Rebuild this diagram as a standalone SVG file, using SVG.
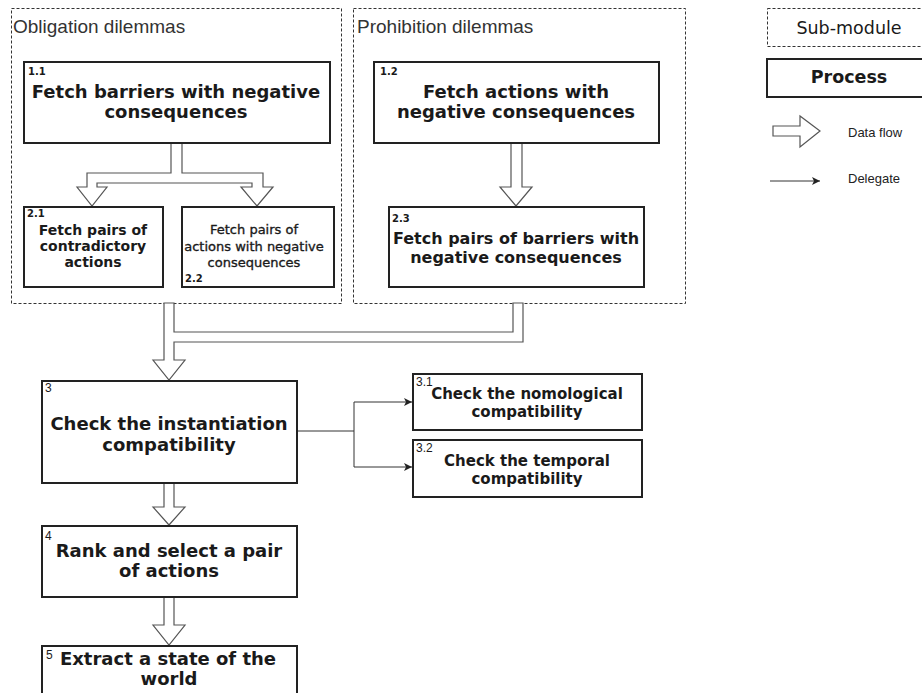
<svg xmlns="http://www.w3.org/2000/svg" width="922" height="693" viewBox="0 0 922 693">
<defs>
<style>
.cont{fill:none;stroke:#333;stroke-width:1;stroke-dasharray:3 2}
.box{fill:#fff;stroke:#222;stroke-width:2}
.flow{fill:#fff;stroke:#555;stroke-width:1.2;stroke-linejoin:miter}
.del{fill:none;stroke:#333;stroke-width:1}
.title{font-family:"Liberation Sans",Arial,sans-serif;font-size:19px;fill:#333}
.b18{font-family:"DejaVu Sans",Verdana,sans-serif;font-weight:bold;font-size:18px;fill:#1a1a1a;text-anchor:middle}
.b16{font-family:"DejaVu Sans",Verdana,sans-serif;font-weight:bold;font-size:16px;fill:#1a1a1a;text-anchor:middle}
.b15{font-family:"DejaVu Sans",Verdana,sans-serif;font-weight:bold;font-size:15px;fill:#1a1a1a;text-anchor:middle}
.b14{font-family:"DejaVu Sans",Verdana,sans-serif;font-weight:bold;font-size:14px;fill:#1a1a1a;text-anchor:middle}
.r13{font-family:"DejaVu Sans",Verdana,sans-serif;font-size:13px;fill:#1a1a1a;stroke:#1a1a1a;stroke-width:0.35;text-anchor:middle}
.num{font-family:"DejaVu Sans",Verdana,sans-serif;font-weight:bold;font-size:10px;fill:#1a1a1a}
.nums{font-family:"Liberation Sans",Arial,sans-serif;font-size:12px;fill:#1a1a1a}
.leg{font-family:"DejaVu Sans",Verdana,sans-serif;font-size:17.5px;fill:#1a1a1a;text-anchor:middle}
.legb{font-family:"DejaVu Sans",Verdana,sans-serif;font-weight:bold;font-size:17.5px;fill:#1a1a1a;text-anchor:middle}
.small{font-family:"Liberation Sans",Arial,sans-serif;font-size:13px;fill:#222}
</style>
<marker id="ah" viewBox="0 0 10 10" refX="10" refY="5" markerWidth="8" markerHeight="8" markerUnits="userSpaceOnUse" orient="auto">
<path d="M0,0 L10,5 L0,10 L2.5,5 z" fill="#222"/>
</marker>
</defs>

<g id="obligation-dilemmas">
<rect class="cont" x="11.5" y="8.5" width="330" height="295"/>
<text class="title" x="13" y="33">Obligation dilemmas</text>
</g>
<g id="prohibition-dilemmas">
<rect class="cont" x="353.5" y="8.5" width="332" height="295"/>
<text class="title" x="357" y="33">Prohibition dilemmas</text>
</g>

<g id="connectors">
<path class="flow" d="M171,143 V173 H87 V187 H77 L92,206 L107,187 H97 V183 H252 V187 H241 L257,206 L273,187 H263 V173 H182 V143"/>
<path class="flow" d="M511,143 V187 H500 L516,206 L532,187 H522 V143"/>
<path class="flow" d="M164,303 V360 H153 L169,380 L185,360 H174 V342 H523 V303 H513 V332 H174 V303 Z"/>
<path class="flow" d="M164,483 V507 H153 L169,525 L185,507 H174 V483"/>
<path class="flow" d="M164,597 V625 H153 L169,645 L185,625 H174 V597"/>
<path class="del" d="M297,431 H354 M354,402 V467"/>
<path class="del" d="M354,402 H412" marker-end="url(#ah)"/>
<path class="del" d="M354,467 H412" marker-end="url(#ah)"/>
</g>

<g id="p1-1">
<rect class="box" x="24" y="62" width="306" height="81"/>
<text class="num" x="28" y="75">1.1</text>
<text class="b18" x="176" y="98">Fetch barriers with negative</text>
<text class="b18" x="176" y="118">consequences</text>
</g>
<g id="p2-1">
<rect class="box" x="24" y="207" width="139" height="80"/>
<text class="num" x="27" y="217">2.1</text>
<text class="b14" x="93" y="235">Fetch pairs of</text>
<text class="b14" x="93" y="251">contradictory</text>
<text class="b14" x="93" y="267">actions</text>
</g>
<g id="p2-2">
<rect class="box" x="182" y="207" width="152" height="80"/>
<text class="r13" x="254" y="234">Fetch pairs of</text>
<text class="r13" x="254" y="251">actions with negative</text>
<text class="r13" x="254" y="267">consequences</text>
<text class="num" x="185" y="282">2.2</text>
</g>
<g id="p1-2">
<rect class="box" x="374" y="62" width="285" height="81"/>
<text class="num" x="380" y="75">1.2</text>
<text class="b18" x="516" y="98">Fetch actions with</text>
<text class="b18" x="516" y="118">negative consequences</text>
</g>
<g id="p2-3">
<rect class="box" x="389" y="207" width="255" height="80"/>
<text class="num" x="392" y="222">2.3</text>
<text class="b16" x="516" y="244">Fetch pairs of barriers with</text>
<text class="b16" x="516" y="263">negative consequences</text>
</g>
<g id="p3">
<rect class="box" x="42" y="381" width="255" height="102"/>
<text class="nums" x="45" y="392">3</text>
<text class="b18" x="169" y="430">Check the instantiation</text>
<text class="b18" x="169" y="451">compatibility</text>
</g>
<g id="p3-1">
<rect class="box" x="413" y="374" width="229" height="56"/>
<text class="nums" x="416" y="386">3.1</text>
<text class="b15" x="527" y="399">Check the nomological</text>
<text class="b15" x="527" y="417">compatibility</text>
</g>
<g id="p3-2">
<rect class="box" x="413" y="440" width="229" height="57"/>
<text class="nums" x="416" y="452">3.2</text>
<text class="b15" x="527" y="466">Check the temporal</text>
<text class="b15" x="527" y="484">compatibility</text>
</g>
<g id="p4">
<rect class="box" x="42" y="526" width="255" height="71"/>
<text class="nums" x="45" y="540">4</text>
<text class="b18" x="169" y="557">Rank and select a pair</text>
<text class="b18" x="169" y="577">of actions</text>
</g>
<g id="p5">
<rect class="box" x="42" y="646" width="255" height="60"/>
<text class="nums" x="46" y="659">5</text>
<text class="b18" x="168" y="665">Extract a state of the</text>
<text class="b18" x="169" y="685">world</text>
</g>

<g id="legend">
<rect class="cont" x="767.5" y="8.5" width="170" height="38"/>
<text class="leg" x="849" y="34">Sub-module</text>
<rect class="box" x="767" y="59" width="170" height="38"/>
<text class="legb" x="849" y="83">Process</text>
<path class="flow" d="M773,126 H800 V116 L820,131 L800,147 V136 H773 Z"/>
<text class="small" x="848" y="137">Data flow</text>
<path class="del" d="M770,181 H820" marker-end="url(#ah)"/>
<text class="small" x="848" y="183">Delegate</text>
</g>
</svg>
